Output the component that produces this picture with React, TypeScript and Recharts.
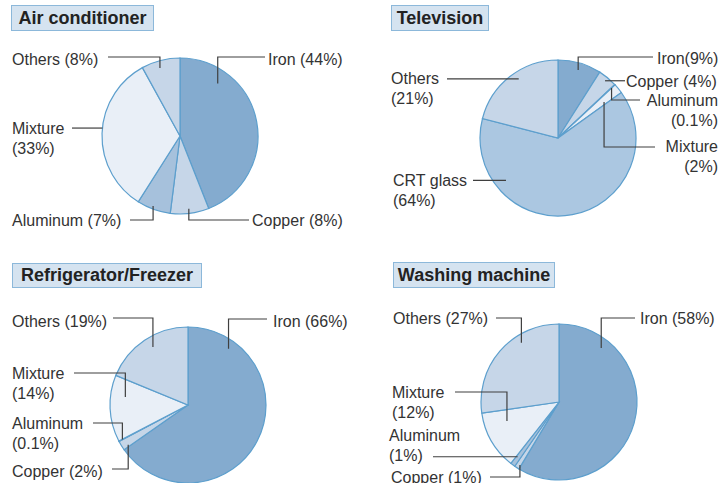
import { Cell, Pie, PieChart } from "recharts";

const acNames = ["Iron", "Copper", "Aluminum", "Mixture", "Others"];
const acValues = [44, 8, 7, 33, 8];

const tvNames = ["Iron", "Copper", "Aluminum", "Mixture", "CRT glass", "Others"];
const tvValues = [9, 4, 0.1, 2, 64, 21];

const fridgeNames = ["Iron", "Copper", "Aluminum", "Mixture", "Others"];
const fridgeValues = [66, 2, 0.1, 14, 19];

const washNames = ["Iron", "Copper", "Aluminum", "Mixture", "Others"];
const washValues = [58, 1, 1, 12, 27];

const colors: Record<string, string> = {
  Iron: "#84abcf",
  Copper: "#c6d6e8",
  Aluminum: "#a6c1dc",
  Mixture: "#e9eff7",
  "CRT glass": "#abc7e1",
  Others: "#c6d6e8",
};

const font = "'Liberation Sans', Arial, Helvetica, sans-serif";
const RAD = Math.PI / 180;

// f: where along the slice the leader starts, rf: share of the radius,
// ly/lx: elbow height and line end, tx/ty: text position
type LabelSpot = {
  f: number;
  rf: number;
  ly?: number;
  lx: number;
  tx: number;
  ty: number;
  end?: boolean;
  join: string;
};

const acSpots: LabelSpot[] = [
  { f: 0.225, rf: 0.83, ly: 57, lx: 265, tx: 268, ty: 59, join: " " },
  { f: 0.51, rf: 0.94, ly: 220, lx: 249, tx: 252, ty: 220, join: " " },
  { f: 0.55, rf: 0.96, ly: 220, lx: 130, tx: 12, ty: 220, join: " " },
  { f: 0.534, rf: 1.0, lx: 72, tx: 12, ty: 128, join: "\n" },
  { f: 0.43, rf: 0.91, ly: 57, lx: 108, tx: 12, ty: 59, join: " " },
];

const tvSpots: LabelSpot[] = [
  { f: 0.51, rf: 0.91, ly: 57, lx: 653, tx: 657, ty: 58, join: "" },
  { f: 0.49, rf: 0.95, lx: 625, tx: 626, ty: 81, join: " " },
  { f: 0.5, rf: 0.94, ly: 100, lx: 640, tx: 718, ty: 100, end: true, join: "\n" },
  { f: 0.67, rf: 0.75, ly: 147, lx: 655, tx: 718, ty: 146, end: true, join: "\n" },
  { f: 0.767, rf: 0.86, lx: 473, tx: 393, ty: 180, join: "\n" },
  { f: 0.555, rf: 0.91, lx: 447, tx: 391, ty: 78, join: "\n" },
];

const fridgeSpots: LabelSpot[] = [
  { f: 0.152, rf: 0.89, ly: 319, lx: 267, tx: 273, ty: 321, join: " " },
  { f: 0.2, rf: 0.92, ly: 469, lx: 112, tx: 12, ty: 471, join: " " },
  { f: 0.5, rf: 0.95, ly: 423, lx: 93, tx: 12, ty: 423, join: "\n" },
  { f: 0.7, rf: 0.81, ly: 373, lx: 74, tx: 12, ty: 373, join: "\n" },
  { f: 0.54, rf: 0.87, ly: 318, lx: 113, tx: 12, ty: 321, join: " " },
];

const washSpots: LabelSpot[] = [
  { f: 0.18, rf: 0.88, ly: 318, lx: 635, tx: 640, ty: 318, join: " " },
  { f: 0.25, rf: 0.95, ly: 477, lx: 490, tx: 391, ty: 477, join: " " },
  { f: 0.7, rf: 0.88, lx: 433, tx: 389, ty: 435, join: "\n" },
  { f: 0.73, rf: 0.71, ly: 392, lx: 455, tx: 392, ty: 392, join: "\n" },
  { f: 0.67, rf: 0.9, ly: 318, lx: 496, tx: 393, ty: 318, join: " " },
];

const pies = [
  { title: "Air conditioner", names: acNames, values: acValues, spots: acSpots, cx: 180, cy: 136, box: [11, 5, 143, 26] },
  { title: "Television", names: tvNames, values: tvValues, spots: tvSpots, cx: 558, cy: 138, box: [391, 5, 98, 26] },
  { title: "Refrigerator/Freezer", names: fridgeNames, values: fridgeValues, spots: fridgeSpots, cx: 188, cy: 405, box: [12, 263, 190, 25] },
  { title: "Washing machine", names: washNames, values: washValues, spots: washSpots, cx: 559, cy: 402, box: [393, 262, 162, 26] },
];

function makeLabel(spots: LabelSpot[]) {
  return (props: any) => {
    const { cx, cy, outerRadius, startAngle, endAngle, index, name, value } = props;
    const s = spots[index];
    const ang = startAngle + (endAngle - startAngle) * s.f;
    const r = outerRadius * s.rf;
    const ax = cx + r * Math.cos(-ang * RAD);
    const ay = cy + r * Math.sin(-ang * RAD);
    const ly = s.ly ?? ay;
    const lines = `${name}${s.join}(${value}%)`.split("\n");
    return (
      <g>
        <path d={`M${ax},${ay}V${ly}H${s.lx}`} fill="none" stroke="#3f3f3f" strokeWidth={1.2} />
        <text fill="#333" fontFamily={font} fontSize={16} textAnchor={s.end ? "end" : "start"}>
          {lines.map((ln, i) => (
            <tspan key={i} x={s.tx} y={s.ty + i * 20.5} dominantBaseline="central">
              {ln}
            </tspan>
          ))}
        </text>
      </g>
    );
  };
}

export default function App() {
  return (
    <div style={{ position: "absolute", left: 0, top: 0, width: 718, height: 483, background: "#fff", overflow: "hidden" }}>
      <PieChart width={718} height={483} margin={{ top: 0, right: 0, bottom: 0, left: 0 }}>
        {pies.map((p) => (
          <Pie
            key={p.title}
            data={p.names.map((n, i) => ({ name: n, value: p.values[i] }))}
            dataKey="value"
            nameKey="name"
            cx={p.cx}
            cy={p.cy}
            outerRadius={78}
            startAngle={90}
            endAngle={-270}
            stroke="#5d9fcd"
            strokeWidth={1.2}
            label={makeLabel(p.spots)}
            labelLine={false}
            isAnimationActive={false}
          >
            {p.names.map((n) => (
              <Cell key={n} fill={colors[n]} />
            ))}
          </Pie>
        ))}
      </PieChart>
      {pies.map((p) => (
        <div
          key={p.title}
          style={{
            position: "absolute",
            left: p.box[0],
            top: p.box[1],
            width: p.box[2],
            height: p.box[3],
            boxSizing: "border-box",
            background: "#d5e3f0",
            border: "1px solid #8cb8da",
            fontFamily: font,
            fontWeight: "bold",
            fontSize: 18,
            color: "#222",
            display: "flex",
            alignItems: "center",
            justifyContent: "center",
            whiteSpace: "nowrap",
          }}
        >
          {p.title}
        </div>
      ))}
    </div>
  );
}
